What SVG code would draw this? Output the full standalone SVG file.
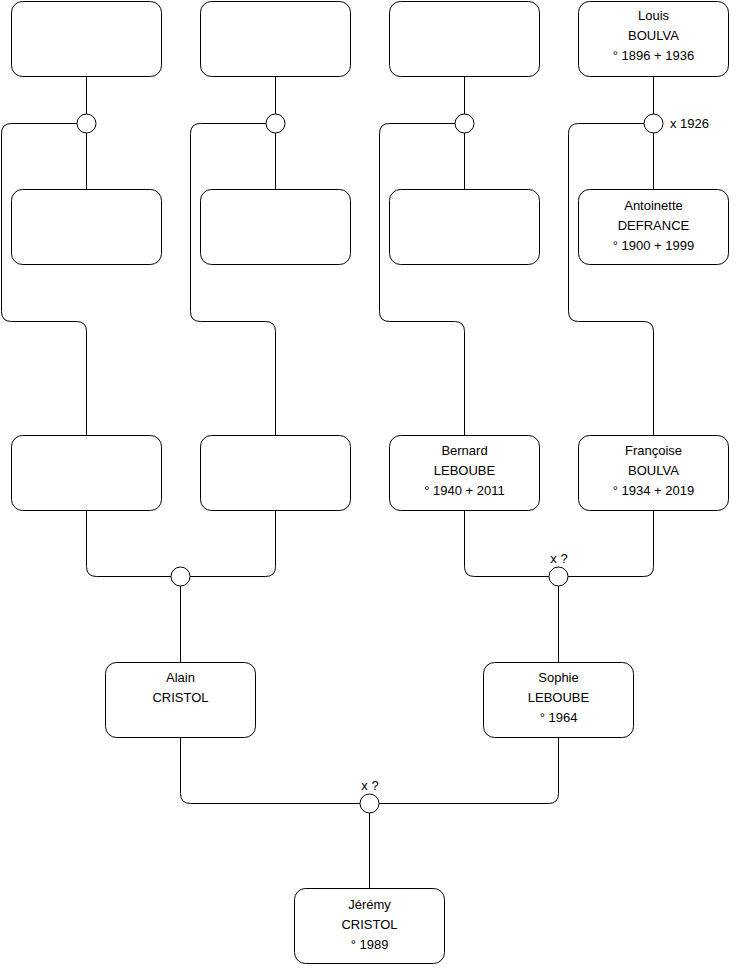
<svg xmlns="http://www.w3.org/2000/svg" width="740" height="975" viewBox="0 0 740 975">
<style>
.box{fill:#fff;stroke:#000;stroke-width:1}
.c{fill:#fff;stroke:#000;stroke-width:1}
.ln{fill:none;stroke:#000;stroke-width:1}
text{font-family:"Liberation Sans",Arial,sans-serif;font-size:13px;fill:#000}
.m{text-anchor:middle}
</style>
<rect width="740" height="975" fill="#fff"/>
<g id="connectors">
<path class="ln" d="M86.5 76.5V189.5"/>
<path class="ln" d="M77 123.5H11.5Q1.5 123.5 1.5 133.5V311.5Q1.5 321.5 11.5 321.5H76.5Q86.5 321.5 86.5 331.5V435.5"/>
<path class="ln" d="M275.5 76.5V189.5"/>
<path class="ln" d="M266 123.5H200.5Q190.5 123.5 190.5 133.5V311.5Q190.5 321.5 200.5 321.5H265.5Q275.5 321.5 275.5 331.5V435.5"/>
<path class="ln" d="M464.5 76.5V189.5"/>
<path class="ln" d="M455 123.5H389.5Q379.5 123.5 379.5 133.5V311.5Q379.5 321.5 389.5 321.5H454.5Q464.5 321.5 464.5 331.5V435.5"/>
<path class="ln" d="M653.5 76.5V189.5"/>
<path class="ln" d="M644 123.5H578.5Q568.5 123.5 568.5 133.5V311.5Q568.5 321.5 578.5 321.5H643.5Q653.5 321.5 653.5 331.5V435.5"/>
<path class="ln" d="M86.5 510.5V566.5Q86.5 576.5 96.5 576.5H171"/>
<path class="ln" d="M275.5 510.5V566.5Q275.5 576.5 265.5 576.5H190"/>
<path class="ln" d="M180.5 586V662.5"/>
<path class="ln" d="M464.5 510.5V566.5Q464.5 576.5 474.5 576.5H549"/>
<path class="ln" d="M653.5 510.5V566.5Q653.5 576.5 643.5 576.5H568"/>
<path class="ln" d="M558.5 586V662.5"/>
<path class="ln" d="M180.5 737.5V793.5Q180.5 803.5 190.5 803.5H360"/>
<path class="ln" d="M558.5 737.5V793.5Q558.5 803.5 548.5 803.5H379"/>
<path class="ln" d="M369.5 813V888.5"/>
<circle class="c" cx="86.5" cy="123.5" r="9.5"/>
<circle class="c" cx="275.5" cy="123.5" r="9.5"/>
<circle class="c" cx="464.5" cy="123.5" r="9.5"/>
<circle class="c" cx="653.5" cy="123.5" r="9.5"/>
<circle class="c" cx="180.5" cy="576.5" r="9.5"/>
<circle class="c" cx="558.5" cy="576.5" r="9.5"/>
<circle class="c" cx="369.5" cy="803.5" r="9.5"/>
<text x="670" y="128">x 1926</text>
<text class="m" x="559" y="563">x ?</text>
<text class="m" x="370" y="790">x ?</text>
</g>
<g id="n1"><rect class="box" x="11.5" y="1.5" width="150" height="75" rx="11"/></g>
<g id="n2"><rect class="box" x="200.5" y="1.5" width="150" height="75" rx="11"/></g>
<g id="n3"><rect class="box" x="389.5" y="1.5" width="150" height="75" rx="11"/></g>
<g id="louis"><rect class="box" x="578.5" y="1.5" width="150" height="75" rx="11"/>
<text class="m" x="653.5" y="20">Louis</text><text class="m" x="653.5" y="40">BOULVA</text><text class="m" x="653.5" y="60">° 1896 + 1936</text></g>
<g id="n5"><rect class="box" x="11.5" y="189.5" width="150" height="75" rx="11"/></g>
<g id="n6"><rect class="box" x="200.5" y="189.5" width="150" height="75" rx="11"/></g>
<g id="n7"><rect class="box" x="389.5" y="189.5" width="150" height="75" rx="11"/></g>
<g id="antoinette"><rect class="box" x="578.5" y="189.5" width="150" height="75" rx="11"/>
<text class="m" x="653.5" y="210">Antoinette</text><text class="m" x="653.5" y="230">DEFRANCE</text><text class="m" x="653.5" y="250">° 1900 + 1999</text></g>
<g id="n9"><rect class="box" x="11.5" y="435.5" width="150" height="75" rx="11"/></g>
<g id="n10"><rect class="box" x="200.5" y="435.5" width="150" height="75" rx="11"/></g>
<g id="bernard"><rect class="box" x="389.5" y="435.5" width="150" height="75" rx="11"/>
<text class="m" x="464.5" y="455">Bernard</text><text class="m" x="464.5" y="475">LEBOUBE</text><text class="m" x="464.5" y="495">° 1940 + 2011</text></g>
<g id="francoise"><rect class="box" x="578.5" y="435.5" width="150" height="75" rx="11"/>
<text class="m" x="653.5" y="455">Françoise</text><text class="m" x="653.5" y="475">BOULVA</text><text class="m" x="653.5" y="495">° 1934 + 2019</text></g>
<g id="alain"><rect class="box" x="105.5" y="662.5" width="150" height="75" rx="11"/>
<text class="m" x="180.5" y="682">Alain</text><text class="m" x="180.5" y="702">CRISTOL</text></g>
<g id="sophie"><rect class="box" x="483.5" y="662.5" width="150" height="75" rx="11"/>
<text class="m" x="558.5" y="682">Sophie</text><text class="m" x="558.5" y="702">LEBOUBE</text><text class="m" x="558.5" y="722">° 1964</text></g>
<g id="jeremy"><rect class="box" x="294.5" y="888.5" width="150" height="75" rx="11"/>
<text class="m" x="369.5" y="909">Jérémy</text><text class="m" x="369.5" y="929">CRISTOL</text><text class="m" x="369.5" y="949">° 1989</text></g>
</svg>
